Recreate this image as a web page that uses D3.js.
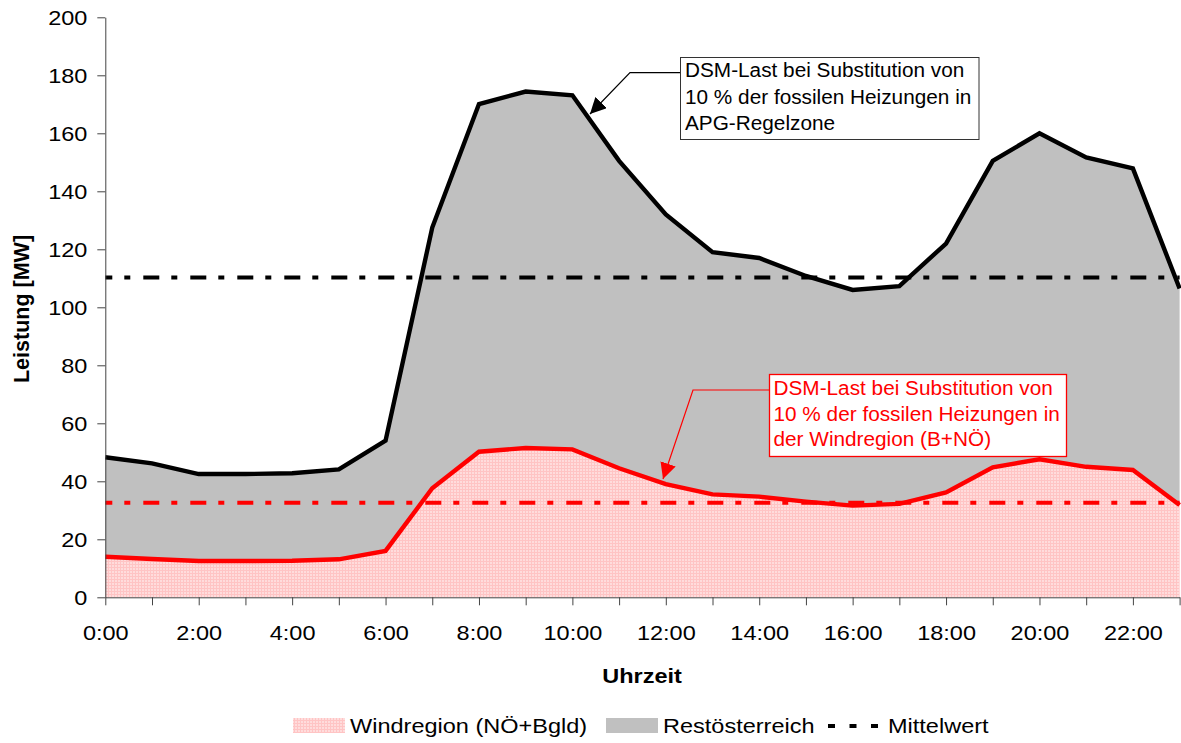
<!DOCTYPE html>
<html>
<head>
<meta charset="utf-8">
<script src="https://cdn.jsdelivr.net/npm/d3@7"></script>
<style>
  html, body { margin: 0; padding: 0; background: #fff; }
  svg { display: block; font-family: "Liberation Sans", Arial, sans-serif; }
  svg text { font-family: "Liberation Sans", Arial, sans-serif; }
</style>
</head>
<body>
<svg id="chart" width="1181" height="743"></svg>
<script>
// ---- data ----
const hours = [0,1,2,3,4,5,6,7,8,9,10,11,12,13,14,15,16,17,18,19,20,21,22,23];
const windregion = [14.0,13.2,12.5,12.5,12.6,13.1,16.0,37.6,50.2,51.5,51.0,44.5,39.0,35.5,34.7,33.0,31.6,32.2,36.2,44.8,47.6,45.0,43.9,31.8];
const restoesterreich = [34.3,33.0,30.0,30.0,30.2,31.0,38.0,89.9,119.9,122.9,122.1,106.0,93.0,83.5,82.3,77.8,74.4,75.1,85.8,105.7,112.4,106.7,104.0,74.7];
const mittelwertTotal = 110.3;
const mittelwertWind = 32.6;
const yTicks = [0,20,40,60,80,100,120,140,160,180,200];
const xLabelHours = [0,2,4,6,8,10,12,14,16,18,20,22];
const seriesNames = ["Windregion (NÖ+Bgld)", "Restösterreich", "Mittelwert"];
const annotation1 = ["DSM-Last bei Substitution von", "10 % der fossilen Heizungen in", "APG-Regelzone"];
const annotation2 = ["DSM-Last bei Substitution von", "10 % der fossilen Heizungen in", "der Windregion (B+NÖ)"];

// ---- layout ----
const SX = 1.12; // horizontal text stretch
const FONT = "'Liberation Sans', Arial, sans-serif";
const svg = d3.select("#chart");
const x = d3.scaleLinear().domain([0, 23]).range([105.3, 1179.6]);
const y = d3.scaleLinear().domain([0, 200]).range([597.3, 17.3]);

const defs = svg.append("defs");
const pat = defs.append("pattern").attr("id", "pink").attr("patternUnits", "userSpaceOnUse")
  .attr("width", 3).attr("height", 3);
pat.append("rect").attr("width", 3).attr("height", 3).attr("fill", "#ffdcdc");
pat.append("rect").attr("width", 3).attr("height", 1).attr("fill", "#ffc4c4");
pat.append("rect").attr("width", 1).attr("height", 3).attr("fill", "#ffc4c4");

function mk(id, color) {
  defs.append("marker").attr("id", id).attr("viewBox", "0 0 10 10")
    .attr("refX", 10).attr("refY", 5).attr("markerWidth", 16).attr("markerHeight", 16)
    .attr("markerUnits", "userSpaceOnUse").attr("orient", "auto")
    .append("path").attr("d", "M0,0 L10,5 L0,10 Z").attr("fill", color);
}
mk("arrBlack", "#000");
mk("arrRed", "#ff0000");

function txt(g, tx, ty, s, o) {
  o = o || {};
  return g.append("text")
    .attr("transform", `translate(${tx},${ty}) scale(${o.sx || SX},1)`)
    .attr("text-anchor", o.anchor || "start")
    .attr("font-family", FONT)
    .attr("font-size", (o.size || 21) + "px")
    .attr("font-weight", o.weight || "normal")
    .attr("fill", o.fill || "#000")
    .text(s);
}

// ---- stacked areas ----
const rows = hours.map((h, i) => ({ h, wind: windregion[i], rest: restoesterreich[i] }));
const stack = d3.stack().keys(["wind", "rest"])(rows);
const area = d3.area().x(d => x(d.data.h)).y0(d => y(d[0])).y1(d => y(d[1]));
const line = d3.line().x(d => x(d.data.h)).y(d => y(d[1]));

svg.append("path").datum(stack[1]).attr("d", area).attr("fill", "#c0c0c0");
svg.append("path").datum(stack[0]).attr("d", area).attr("fill", "url(#pink)");

// mean lines
const dash = "16,12,6,13";
svg.append("line").attr("x1", x(0)).attr("x2", x(23)).attr("y1", y(mittelwertTotal)).attr("y2", y(mittelwertTotal))
  .attr("stroke", "#000").attr("stroke-width", 4).attr("stroke-dasharray", dash).attr("stroke-dashoffset", 9);
svg.append("line").attr("x1", x(0)).attr("x2", x(23)).attr("y1", y(mittelwertWind)).attr("y2", y(mittelwertWind))
  .attr("stroke", "#ff0000").attr("stroke-width", 4).attr("stroke-dasharray", dash).attr("stroke-dashoffset", 9);

// series lines
svg.append("path").datum(stack[1]).attr("d", line).attr("fill", "none").attr("stroke", "#000").attr("stroke-width", 4.4);
svg.append("path").datum(stack[0]).attr("d", line).attr("fill", "none").attr("stroke", "#ff0000").attr("stroke-width", 4.4);

// ---- axes ----
const yAxis = svg.append("g").attr("transform", `translate(${x(0)},0)`)
  .call(d3.axisLeft(y).tickValues(yTicks).tickSize(8).tickPadding(8).tickSizeOuter(0));
yAxis.selectAll("text").attr("font-size", "21px").attr("fill", "#000").attr("font-family", FONT)
  .attr("dy", "0.35em").attr("transform", `scale(${SX},1)`);
const xAxis = svg.append("g").attr("transform", `translate(0,${y(0)})`)
  .call(d3.axisBottom(x).tickValues(hours).tickSize(8).tickSizeOuter(0)
    .tickFormat(h => xLabelHours.includes(h) ? h + ":00" : ""));
xAxis.selectAll("text").attr("font-size", "21px").attr("fill", "#000").attr("font-family", FONT)
  .attr("y", 43).attr("dy", "0").attr("transform", `scale(${SX},1)`);
svg.selectAll(".domain, .tick line").attr("stroke", "#444").attr("stroke-width", 1);

// axis titles
txt(svg, 642, 683, "Uhrzeit", { anchor: "middle", weight: "bold", size: 21 });
svg.append("text").attr("transform", "translate(29,309) rotate(-90)").attr("text-anchor", "middle")
  .attr("font-family", FONT).attr("font-size", "21.5px").attr("font-weight", "bold").text("Leistung [MW]");

// ---- annotations ----
svg.append("polyline").attr("points", `681,72.7 630,72.7 590,114`).attr("fill", "none")
  .attr("stroke", "#000").attr("stroke-width", 1.2).attr("marker-end", "url(#arrBlack)");
svg.append("rect").attr("x", 680.5).attr("y", 57.5).attr("width", 298.5).attr("height", 82)
  .attr("fill", "#fff").attr("stroke", "#333").attr("stroke-width", 1);
annotation1.forEach((s, i) => txt(svg, 685, 77.3 + i * 26.5, s, { size: 19.6, sx: 1.06 }));

svg.append("polyline").attr("points", `769,390 693,390 663,479`).attr("fill", "none")
  .attr("stroke", "#ff0000").attr("stroke-width", 1.2).attr("marker-end", "url(#arrRed)");
svg.append("rect").attr("x", 769.5).attr("y", 374.5).attr("width", 297).attr("height", 82)
  .attr("fill", "#fff").attr("stroke", "#ff0000").attr("stroke-width", 1.3);
annotation2.forEach((s, i) => txt(svg, 773.5, 395 + i * 25.5, s, { size: 19.6, sx: 1.06, fill: "#ff0000" }));

// ---- legend ----
const lg = svg.append("g");
lg.append("rect").attr("x", 293).attr("y", 718).attr("width", 52).attr("height", 15).attr("fill", "url(#pink)");
txt(lg, 350, 733, seriesNames[0], { size: 21 });
lg.append("rect").attr("x", 606).attr("y", 718).attr("width", 52).attr("height", 15).attr("fill", "#c0c0c0");
txt(lg, 663, 733, seriesNames[1], { size: 21 });
lg.append("line").attr("x1", 828).attr("x2", 878).attr("y1", 726).attr("y2", 726)
  .attr("stroke", "#000").attr("stroke-width", 4).attr("stroke-dasharray", "7,14.5");
txt(lg, 888, 733, seriesNames[2], { size: 21 });
</script>
</body>
</html>
